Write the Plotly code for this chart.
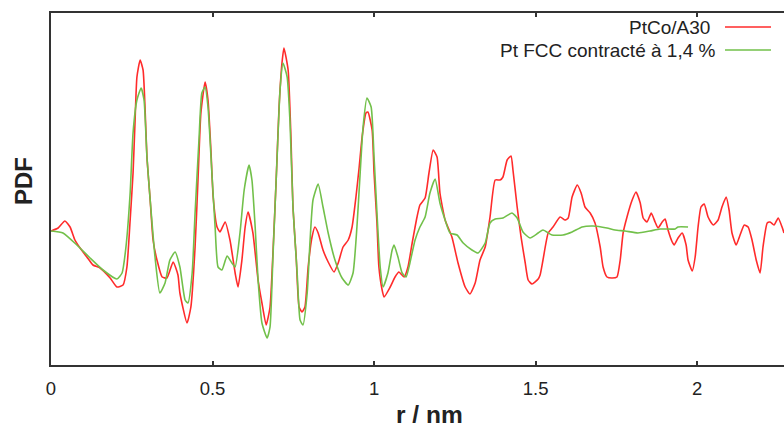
import plotly.graph_objects as go

# PtCo/A30 experimental PDF (r in nm, PDF in arbitrary units)
r_ptco = [0.000, 0.022, 0.043, 0.059, 0.074, 0.090, 0.111, 0.130, 0.152, 0.183, 0.204, 0.223, 0.235, 0.245,
          0.254, 0.260, 0.266, 0.276, 0.285, 0.291, 0.297, 0.307, 0.316, 0.328, 0.344, 0.359, 0.378, 0.393,
          0.399, 0.421, 0.433, 0.446, 0.455, 0.464, 0.477, 0.486, 0.495, 0.502, 0.514, 0.523, 0.539, 0.554,
          0.570, 0.579, 0.591, 0.601, 0.610, 0.625, 0.641, 0.653, 0.666, 0.678, 0.687, 0.697, 0.706, 0.715,
          0.721, 0.734, 0.743, 0.749, 0.759, 0.768, 0.777, 0.786, 0.796, 0.808, 0.817, 0.827, 0.842, 0.858,
          0.876, 0.889, 0.904, 0.920, 0.932, 0.944, 0.954, 0.963, 0.975, 0.981, 0.994, 1.000, 1.009, 1.015,
          1.025, 1.031, 1.050, 1.065, 1.077, 1.093, 1.105, 1.118, 1.133, 1.142, 1.158, 1.170, 1.183, 1.195,
          1.204, 1.220, 1.241, 1.260, 1.282, 1.297, 1.313, 1.328, 1.344, 1.359, 1.375, 1.390, 1.399, 1.412,
          1.424, 1.430, 1.443, 1.455, 1.468, 1.477, 1.489, 1.508, 1.514, 1.523, 1.539, 1.554, 1.576, 1.591,
          1.601, 1.613, 1.629, 1.641, 1.653, 1.669, 1.684, 1.700, 1.709, 1.721, 1.737, 1.752, 1.762, 1.771,
          1.783, 1.799, 1.811, 1.824, 1.833, 1.845, 1.858, 1.870, 1.879, 1.892, 1.901, 1.910, 1.923, 1.929,
          1.941, 1.954, 1.966, 1.972, 1.985, 1.994, 2.003, 2.012, 2.022, 2.034, 2.050, 2.065, 2.077, 2.090,
          2.099, 2.108, 2.121, 2.133, 2.146, 2.158, 2.170, 2.183, 2.195, 2.204, 2.217, 2.226, 2.238, 2.251,
          2.263, 2.269]
pdf_ptco = [0.0, 0.3, 1.0, 0.4, -0.9, -1.7, -2.6, -3.4, -3.7, -4.7, -5.6, -5.4, -3.6, 1.1,
            5.8, 10.8, 15.4, 17.1, 16.1, 12.4, 7.4, 3.1, -0.9, -2.9, -4.6, -4.7, -3.1, -4.4,
            -6.2, -9.2, -7.6, -1.6, 5.1, 11.8, 14.9, 13.1, 8.1, 3.4, 0.4, -0.1, 0.9, -0.9,
            -4.2, -5.6, -2.9, 0.4, 1.9, -0.2, -4.9, -7.2, -9.4, -7.6, -2.2, 5.1, 12.4, 16.8,
            18.3, 16.1, 9.1, 2.4, -2.6, -7.6, -8.1, -7.6, -3.6, -0.6, 0.4, -0.2, -1.9, -3.1,
            -4.1, -3.2, -1.6, -0.9, 0.4, 3.4, 6.4, 9.4, 11.8, 11.9, 10.1, 5.8, 0.8, -3.6,
            -5.9, -6.6, -5.6, -4.6, -4.1, -4.6, -3.6, -1.2, 1.4, 2.6, 3.3, 5.8, 8.1, 7.4,
            3.8, 1.1, -0.6, -3.2, -5.6, -6.3, -5.2, -2.9, -1.6, 1.4, 5.1, 5.1, 5.4, 7.1,
            7.5, 6.1, 2.4, -0.6, -3.2, -4.9, -5.3, -4.8, -4.4, -2.9, -0.2, 0.4, 1.4, 1.1,
            1.3, 3.4, 4.6, 3.8, 2.4, 1.8, 0.8, -1.6, -3.6, -4.6, -4.7, -4.6, -2.9, -0.2,
            1.4, 3.1, 3.9, 2.8, 1.3, 0.9, 1.8, 0.9, 0.3, 0.9, 1.2, 0.1, -1.1, -1.4,
            -0.7, -0.2, -1.4, -2.9, -4.0, -2.6, 0.4, 2.4, 2.7, 1.4, 0.6, 1.1, 2.4, 3.4,
            2.1, -0.2, -1.4, -0.4, 0.6, 0.4, -0.9, -2.9, -4.2, -1.6, 0.8, 0.9, 0.6, 1.3,
            0.4, -0.2]

# Pt FCC contracted 1.4 % (calculated PDF)
r_ptfcc = [0.000, 0.037, 0.080, 0.121, 0.161, 0.204, 0.220, 0.232, 0.245, 0.254, 0.266, 0.279, 0.288, 0.297,
           0.307, 0.322, 0.337, 0.353, 0.368, 0.384, 0.399, 0.415, 0.424, 0.437, 0.446, 0.458, 0.467, 0.477,
           0.486, 0.498, 0.508, 0.517, 0.529, 0.545, 0.560, 0.570, 0.585, 0.598, 0.613, 0.622, 0.632, 0.641,
           0.653, 0.669, 0.678, 0.687, 0.700, 0.709, 0.718, 0.731, 0.740, 0.749, 0.762, 0.771, 0.780, 0.793,
           0.802, 0.811, 0.827, 0.842, 0.858, 0.879, 0.901, 0.920, 0.935, 0.947, 0.957, 0.966, 0.978, 0.991,
           1.000, 1.009, 1.019, 1.028, 1.043, 1.056, 1.062, 1.074, 1.087, 1.099, 1.111, 1.127, 1.142, 1.158,
           1.173, 1.189, 1.204, 1.220, 1.235, 1.257, 1.276, 1.303, 1.322, 1.344, 1.359, 1.375, 1.399, 1.427,
           1.443, 1.461, 1.483, 1.508, 1.523, 1.551, 1.585, 1.613, 1.644, 1.678, 1.721, 1.746, 1.777, 1.817,
           1.854, 1.885, 1.932, 1.941, 1.972]
pdf_ptfcc = [0.0, -0.2, -1.4, -2.7, -3.9, -4.8, -4.2, -1.6, 3.8, 9.8, 13.1, 14.3, 13.1, 7.4,
             3.1, -2.6, -6.2, -5.2, -2.9, -2.1, -3.6, -6.9, -7.2, -4.2, 1.8, 9.1, 13.8, 14.4,
             12.4, 5.8, 0.4, -3.6, -3.9, -2.5, -3.2, -3.6, -0.2, 4.1, 6.6, 5.1, 0.4, -4.9,
             -9.2, -10.7, -9.6, -2.6, 7.4, 14.1, 16.8, 15.4, 10.8, 2.4, -4.2, -8.9, -9.4, -6.2,
             -0.9, 3.1, 4.7, 2.4, -0.2, -2.9, -4.7, -5.4, -4.2, 0.4, 5.8, 10.4, 13.3, 12.4,
             7.4, 1.8, -3.6, -5.6, -4.2, -1.9, -1.4, -2.6, -4.2, -4.6, -3.2, -0.9, 0.4, 1.4,
             3.8, 5.2, 2.8, 1.1, -0.2, -0.4, -1.2, -1.9, -2.2, -1.2, 0.8, 1.2, 1.3, 1.8,
             1.3, -0.1, -0.7, -0.2, 0.1, -0.4, -0.4, -0.1, 0.4, 0.5, 0.3, 0.1, 0.0, -0.2,
             0.0, 0.2, 0.2, 0.4, 0.4]

x_tickvals = [0, 0.5, 1, 1.5, 2]
x_ticktext = ["0", "0.5", "1", "1.5", "2"]
series_names = ["PtCo/A30", "Pt FCC contracté à 1,4 %"]
RED = "#ff2b2b"
GREEN = "#72c04a"
AXIS = "#333333"
TXT = "#222222"
X_RANGE = [0, 2.269]

fig = go.Figure()
fig.add_trace(go.Scatter(x=r_ptco, y=pdf_ptco, mode="lines", name=series_names[0],
                         line=dict(color=RED, width=1.6, shape="spline", smoothing=0.5)))
fig.add_trace(go.Scatter(x=r_ptfcc, y=pdf_ptfcc, mode="lines", name=series_names[1],
                         line=dict(color=GREEN, width=1.6, shape="spline", smoothing=0.5)))

W, H = 784, 428
L, R, T, B = 51, 0, 13, 63
pw, ph = W - L - R, H - T - B

def px(xp):
    return (xp - L) / pw

def py(yp):
    return (H - B - yp) / ph

fig.update_layout(
    width=W, height=H,
    margin=dict(l=L, r=R, t=T, b=B, pad=0),
    paper_bgcolor="white", plot_bgcolor="white",
    showlegend=False,
    font=dict(family="Liberation Sans, Arial, sans-serif", color=TXT),
    xaxis=dict(range=X_RANGE, tickvals=x_tickvals, ticktext=x_ticktext,
               ticks="inside", ticklen=4, tickwidth=1.5, tickcolor=AXIS,
               showline=True, linecolor=AXIS, linewidth=2, mirror="ticks",
               showgrid=False, zeroline=False,
               tickfont=dict(size=18.5, color=TXT), ticklabelstandoff=6),
    yaxis=dict(range=[-13.4, 21.8], showticklabels=False, ticks="",
               showline=True, linecolor=AXIS, linewidth=2, mirror=False,
               showgrid=False, zeroline=False),
)

annotations = [
    dict(text="<b>r / nm</b>", x=px(429), y=py(414), xref="paper", yref="paper",
         xanchor="center", yanchor="middle", showarrow=False, font=dict(size=24.5, color=TXT)),
    dict(text="<b>PDF</b>", x=px(23), y=py(181), xref="paper", yref="paper", textangle=-90,
         xanchor="center", yanchor="middle", showarrow=False, font=dict(size=24, color=TXT)),
    dict(text=series_names[0], x=px(712), y=py(27.5), xref="paper", yref="paper",
         xanchor="right", yanchor="middle", showarrow=False, font=dict(size=19, color=TXT)),
    dict(text=series_names[1], x=px(718), y=py(50), xref="paper", yref="paper",
         xanchor="right", yanchor="middle", showarrow=False, font=dict(size=19, color=TXT)),
]
fig.update_layout(annotations=annotations)
# legend sample lines
fig.add_shape(type="line", xref="paper", yref="paper", x0=px(725), x1=px(771), y0=py(27), y1=py(27),
              line=dict(color=RED, width=1.6))
fig.add_shape(type="line", xref="paper", yref="paper", x0=px(725), x1=px(771), y0=py(50), y1=py(50),
              line=dict(color=GREEN, width=1.6))

fig.write_html("out.html", config={"displayModeBar": False},
               post_script="document.body.style.margin='0px';document.body.style.overflow='hidden';")
